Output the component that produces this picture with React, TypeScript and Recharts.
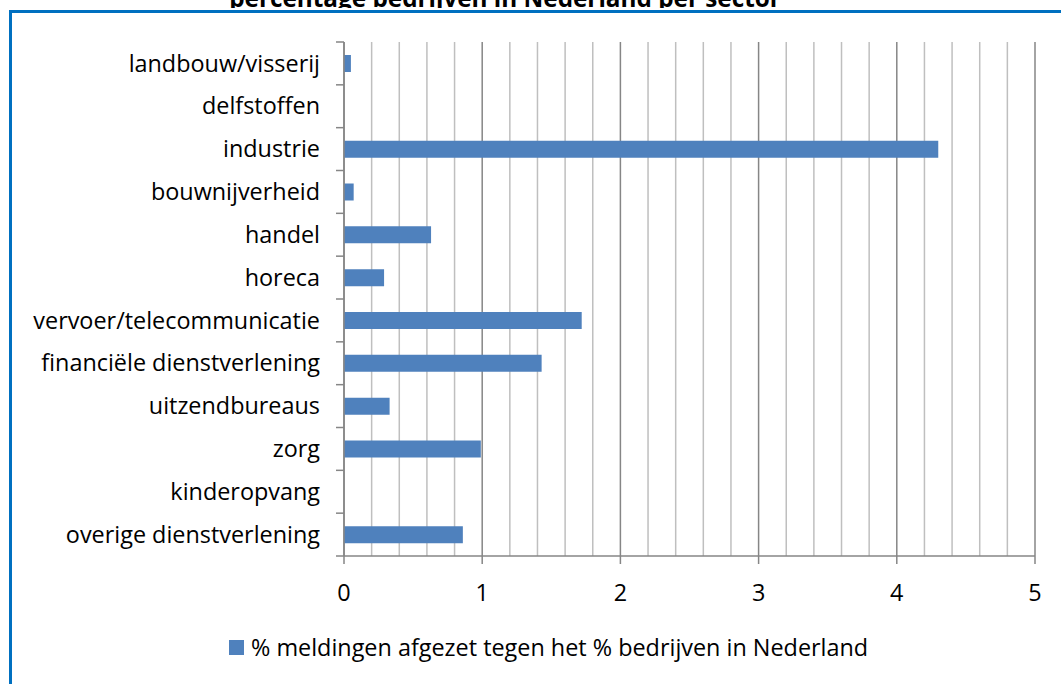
import React from 'react';
import {
  BarChart,
  Bar,
  XAxis,
  YAxis,
  CartesianGrid,
  Legend,
} from 'recharts';

const sectors = [
  'landbouw/visserij',
  'delfstoffen',
  'industrie',
  'bouwnijverheid',
  'handel',
  'horeca',
  'vervoer/telecommunicatie',
  'financiële dienstverlening',
  'uitzendbureaus',
  'zorg',
  'kinderopvang',
  'overige dienstverlening',
];

const ratios = [0.05, 0, 4.3, 0.07, 0.63, 0.29, 1.72, 1.43, 0.33, 0.99, 0, 0.86];

const majorTicks = [0, 1, 2, 3, 4, 5];
// minor gridlines between the labelled ticks
const minorTicks = [
  0.2, 0.4, 0.6, 0.8, 1.2, 1.4, 1.6, 1.8, 2.2, 2.4, 2.6, 2.8, 3.2, 3.4, 3.6,
  3.8, 4.2, 4.4, 4.6, 4.8,
];

const seriesName = '% meldingen afgezet tegen het % bedrijven in Nederland';
const title = 'percentage bedrijven in Nederland per sector';

const FONT = '"Open Sans", sans-serif';
const FONT_SIZE = 23.4;
const BLUE = '#4F81BD';
const AXIS = '#868686';

const W = 1061;
const H = 684;
const MARGIN = { top: 42, right: 26, bottom: 38, left: 0 };
const X_AXIS_H = 58;
const LEGEND_H = 32;
// height of one category band, used for the tick marks between the bars
const BAND =
  (H - MARGIN.top - MARGIN.bottom - X_AXIS_H - LEGEND_H) / sectors.length;

const data = sectors.map((sector, i) => ({ sector, value: ratios[i] }));

const SectorTick = (props: any) => {
  const { x, y, payload, index } = props;
  const axisX = x + 24;
  return (
    <g>
      <line
        x1={axisX - 8}
        x2={axisX}
        y1={y - BAND / 2}
        y2={y - BAND / 2}
        stroke={AXIS}
        strokeWidth={1.5}
      />
      {index === sectors.length - 1 && (
        <line
          x1={axisX - 8}
          x2={axisX}
          y1={y + BAND / 2}
          y2={y + BAND / 2}
          stroke={AXIS}
          strokeWidth={1.5}
        />
      )}
      <text
        x={x}
        y={y}
        dy="0.35em"
        textAnchor="end"
        fill="#000"
        fontFamily={FONT}
        fontSize={FONT_SIZE}
      >
        {payload.value}
      </text>
    </g>
  );
};

const renderLegend = () => (
  <div
    style={{
      display: 'flex',
      alignItems: 'center',
      height: LEGEND_H,
      fontFamily: FONT,
      fontSize: FONT_SIZE,
      color: '#000',
      whiteSpace: 'nowrap',
    }}
  >
    <span
      style={{
        width: 15,
        height: 15,
        background: BLUE,
        display: 'inline-block',
        marginRight: 7,
      }}
    />
    {seriesName}
  </div>
);

const App: React.FC = () => {
  return (
    <div
      style={{
        position: 'absolute',
        left: 0,
        top: 0,
        width: W,
        height: H,
        overflow: 'hidden',
        background: '#fff',
      }}
    >
      <div
        style={{
          position: 'absolute',
          left: 0,
          top: 0,
          width: 1010,
          height: 8,
          overflow: 'hidden',
        }}
      >
        <div
          style={{
            position: 'absolute',
            left: 0,
            right: 0,
            top: -17,
            textAlign: 'center',
            fontFamily: FONT,
            fontWeight: 'bold',
            fontSize: 24.3,
            lineHeight: '30px',
            color: '#000',
            whiteSpace: 'nowrap',
          }}
        >
          {title}
        </div>
      </div>
      <div
        style={{
          position: 'absolute',
          left: 9,
          top: 10,
          width: 1100,
          height: 700,
          borderTop: '3px solid #0070C0',
          borderLeft: '3px solid #0070C0',
        }}
      />
      <div style={{ position: 'absolute', left: 0, top: 0 }}>
        <BarChart
          width={W}
          height={H}
          data={data}
          layout="vertical"
          barSize={17}
          margin={MARGIN}
        >
          <CartesianGrid
            horizontal={false}
            verticalValues={minorTicks}
            stroke="#BFBFBF"
            strokeWidth={1.5}
          />
          <CartesianGrid horizontal={false} stroke={AXIS} strokeWidth={1.5} />
          <XAxis
            type="number"
            domain={[0, 5]}
            ticks={majorTicks}
            height={X_AXIS_H}
            stroke={AXIS}
            strokeWidth={1.5}
            tickSize={8}
            tickMargin={20}
            tick={{ fill: '#000', fontFamily: FONT, fontSize: FONT_SIZE }}
          />
          <YAxis
            type="category"
            dataKey="sector"
            width={344}
            stroke={AXIS}
            strokeWidth={1.5}
            tickLine={false}
            tickSize={6}
            tickMargin={18}
            interval={0}
            tick={<SectorTick />}
          />
          <Legend
            verticalAlign="bottom"
            content={renderLegend}
            wrapperStyle={{ left: 229, bottom: 21, width: 700 }}
          />
          <Bar
            dataKey="value"
            name={seriesName}
            fill={BLUE}
            isAnimationActive={false}
          />
        </BarChart>
      </div>
    </div>
  );
};

export default App;
